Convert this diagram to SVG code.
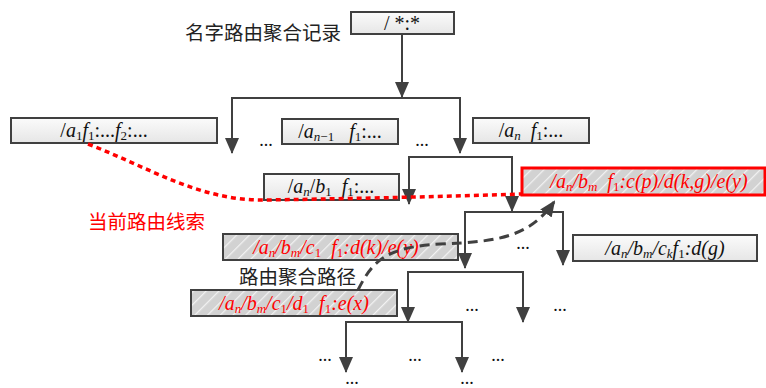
<svg xmlns="http://www.w3.org/2000/svg" width="766" height="388" viewBox="0 0 766 388">
<defs>
<linearGradient id="gbox" x1="0" y1="0" x2="0" y2="1">
<stop offset="0" stop-color="#fbfbfb"/><stop offset="1" stop-color="#e6e6e6"/>
</linearGradient>
<pattern id="hatch" width="9" height="9" patternUnits="userSpaceOnUse" patternTransform="rotate(45)">
<rect width="9" height="9" fill="#d2d2d2"/>
<line x1="0" y1="0" x2="0" y2="9" stroke="#f2f2f2" stroke-width="2.5"/>
</pattern>
<marker id="arr" markerUnits="userSpaceOnUse" viewBox="0 0 16 14" refX="15" refY="7" markerWidth="16" markerHeight="14" orient="auto-start-reverse">
<path d="M0 0 L16 7 L0 14 Z" fill="#404040"/>
</marker>
<marker id="arr2" markerUnits="userSpaceOnUse" viewBox="0 0 16 14" refX="14" refY="7" markerWidth="16" markerHeight="14" orient="auto">
<path d="M0 0 L16 7 L0 14 Z" fill="#404040"/>
</marker>
</defs>
<style>
.box{fill:url(#gbox);stroke:#404040;stroke-width:2}
.hb{fill:url(#hatch);stroke:#404040;stroke-width:2}
.rb{fill:url(#hatch);stroke:#ff0000;stroke-width:3}
.t{font-family:"Liberation Serif",serif;font-size:20px;fill:#111;text-anchor:middle;white-space:pre}
.r{fill:#ff0000}
.i{font-style:italic}
.s{font-size:13px;baseline-shift:-3px}
.cn{font-family:"Noto Sans CJK SC","Noto Sans",sans-serif;font-size:19.5px}
.ln{fill:none;stroke:#404040;stroke-width:2}
.dots{font-family:"Liberation Serif",serif;font-size:18px;fill:#111;text-anchor:middle}
</style>
<rect width="766" height="388" fill="#ffffff"/>

<text class="cn" x="185" y="40" fill="#222">名字路由聚合记录</text>
<text class="cn" x="88" y="229" fill="#ff0000">当前路由线索</text>
<text class="cn" x="239" y="284" font-size="19" fill="#222">路由聚合路径</text>

<g id="root">
<rect class="box" x="351" y="12" width="103" height="22"/>
<text class="t" x="402" y="30" font-size="18" xml:space="preserve">/ *:*</text>
</g>
<g id="a1">
<rect class="box" x="11" y="118" width="206" height="25"/>
<text class="t" x="104" y="137" xml:space="preserve">/<tspan class="i">a</tspan><tspan class="s">1</tspan><tspan class="i">f</tspan><tspan class="s">1</tspan>:...<tspan class="i">f</tspan><tspan class="s">2</tspan>:...</text>
</g>
<g id="an1">
<rect class="box" x="282" y="119" width="116" height="25"/>
<text class="t" x="340" y="138" xml:space="preserve">/<tspan class="i">a</tspan><tspan class="s i">n</tspan><tspan class="s">−1</tspan>   <tspan class="i">f</tspan><tspan class="s">1</tspan>:...</text>
</g>
<g id="an">
<rect class="box" x="473" y="118" width="116" height="25"/>
<text class="t" x="531" y="137" xml:space="preserve">/<tspan class="i">a</tspan><tspan class="s i">n</tspan>  <tspan class="i">f</tspan><tspan class="s">1</tspan>:...</text>
</g>
<g id="anb1">
<rect class="box" x="264" y="174" width="135" height="26"/>
<text class="t" x="331" y="193" xml:space="preserve">/<tspan class="i">a</tspan><tspan class="s i">n</tspan>/<tspan class="i">b</tspan><tspan class="s">1</tspan>  <tspan class="i">f</tspan><tspan class="s">1</tspan>:...</text>
</g>
<g id="anbm">
<rect class="rb" x="522" y="168" width="243" height="27"/>
<text class="t r i" x="649" y="188" xml:space="preserve">/a<tspan class="s">n</tspan>/b<tspan class="s">m</tspan>  f<tspan class="s" font-style="normal">1</tspan>:c(p)/d(k,g)/e(y)</text>
</g>
<g id="anbmck">
<rect class="box" x="573" y="235" width="184" height="26"/>
<text class="t i" x="665" y="255" xml:space="preserve">/a<tspan class="s">n</tspan>/b<tspan class="s">m</tspan>/c<tspan class="s">k</tspan>f<tspan class="s" font-style="normal">1</tspan>:d(g)</text>
</g>
<g id="anbmc1">
<rect class="hb" x="223" y="234" width="235" height="26"/>
<text class="t r i" x="336" y="254" xml:space="preserve">/a<tspan class="s">n</tspan>/b<tspan class="s">m</tspan>/c<tspan class="s" font-style="normal">1</tspan>  f<tspan class="s" font-style="normal">1</tspan>:d(k)/e(y)</text>
</g>
<g id="anbmc1d1">
<rect class="hb" x="191" y="290" width="206" height="26"/>
<text class="t r i" x="294" y="310" xml:space="preserve">/a<tspan class="s">n</tspan>/b<tspan class="s">m</tspan>/c<tspan class="s" font-style="normal">1</tspan>/d<tspan class="s" font-style="normal">1</tspan>  f<tspan class="s" font-style="normal">1</tspan>:e(x)</text>
</g>

<g id="connectors">
<path class="ln" d="M402 34 V97" marker-end="url(#arr)"/>
<path class="ln" d="M232 153 V98 H460 V153" marker-start="url(#arr)" marker-end="url(#arr)"/>
<path class="ln" d="M409 204 V157 H512 V211" marker-start="url(#arr)" marker-end="url(#arr)"/>
<path class="ln" d="M465 268 V212 H563 V265" marker-start="url(#arr)" marker-end="url(#arr)"/>
<path class="ln" d="M408 322 V272 H523 V322" marker-start="url(#arr)" marker-end="url(#arr)"/>
<path class="ln" d="M346 372 V322 H462 V372" marker-start="url(#arr)" marker-end="url(#arr)"/>
<path d="M88 144 C 150 168, 200 201, 265 200 C 330 199, 430 197, 522 194" fill="none" stroke="#ff0000" stroke-width="3.5" stroke-dasharray="5 4"/>
<path d="M358 290 C 372 262, 385 247, 440 244 C 500 242, 530 236, 554 202" fill="none" stroke="#404040" stroke-width="3" stroke-dasharray="10 6" marker-end="url(#arr2)"/>
</g>

<g id="ellipses">
<text class="dots" x="266" y="146">...</text>
<text class="dots" x="422" y="146">...</text>
<text class="dots" x="523" y="249">...</text>
<text class="dots" x="472" y="311">...</text>
<text class="dots" x="560" y="311">...</text>
<text class="dots" x="325" y="361">...</text>
<text class="dots" x="415" y="361">...</text>
<text class="dots" x="498" y="361">...</text>
<text class="dots" x="352" y="384">...</text>
<text class="dots" x="467" y="384">...</text>
</g>
</svg>
